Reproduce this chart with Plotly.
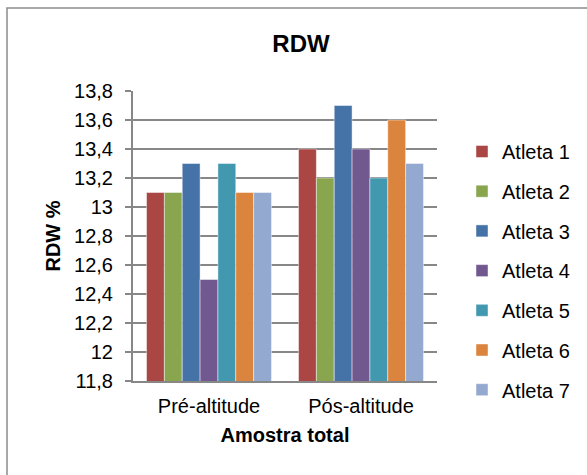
import plotly.graph_objects as go

# Data
categories = ["Pré-altitude", "Pós-altitude"]
athletes = ["Atleta 1", "Atleta 2", "Atleta 3", "Atleta 4", "Atleta 5", "Atleta 6", "Atleta 7"]
pre_altitude = [13.1, 13.1, 13.3, 12.5, 13.3, 13.1, 13.1]
pos_altitude = [13.4, 13.2, 13.7, 13.4, 13.2, 13.6, 13.3]
y_tick_values = [11.8, 12.0, 12.2, 12.4, 12.6, 12.8, 13.0, 13.2, 13.4, 13.6, 13.8]
y_tick_labels = ["11,8", "12", "12,2", "12,4", "12,6", "12,8", "13", "13,2", "13,4", "13,6", "13,8"]

colors = ["#AA4643", "#89A54E", "#4572A7", "#71588F", "#4198AF", "#DB843D", "#93A9CF"]
FONT = "Arial, 'Liberation Sans', sans-serif"

W, H = 587, 475
L, R, T, B = 133, 150, 91, 94
pw, ph = W - L - R, H - T - B


def px_x(px):
    return (px - L) / pw


def px_y(py):
    return (H - B - py) / ph


fig = go.Figure()
for i, name in enumerate(athletes):
    fig.add_trace(go.Bar(
        name=name,
        x=categories,
        y=[pre_altitude[i], pos_altitude[i]],
        marker=dict(color=colors[i], line=dict(color="rgba(255,255,255,0.45)", width=1)),
        legendgroup=name,
    ))

fig.update_layout(
    width=W, height=H,
    margin=dict(l=L, r=R, t=T, b=B),
    paper_bgcolor="white", plot_bgcolor="white",
    barmode="group", bargap=0.178, bargroupgap=0,
    font=dict(family=FONT, color="black", size=20),
    title=dict(text="<b>RDW</b>", x=301 / W, xanchor="center",
               y=1 - 44 / H, yanchor="middle", font=dict(size=24, family=FONT)),
    legend=dict(x=px_x(462), xanchor="left", y=px_y(271), yanchor="middle",
                font=dict(size=20, family=FONT), tracegroupgap=10.7,
                itemwidth=30, bgcolor="rgba(0,0,0,0)", maxheight=460),
    showlegend=True,
    shapes=[dict(type="rect", xref="paper", yref="paper",
                 x0=px_x(7), x1=px_x(600), y0=px_y(490), y1=px_y(8),
                 line=dict(color="#8c8c8c", width=1.5), layer="below")],
)

fig.update_xaxes(
    showline=True, linecolor="#878787", linewidth=2,
    ticks="", showgrid=False,
    tickfont=dict(size=20, family=FONT),
    ticklabelstandoff=6,
    title=dict(text="<b>Amostra total</b>", font=dict(size=20, family=FONT), standoff=12),
)
fig.update_yaxes(
    range=[11.8, 13.8],
    tickvals=y_tick_values, ticktext=y_tick_labels,
    showline=True, linecolor="#878787", linewidth=2,
    ticks="outside", ticklen=6, tickcolor="#878787", tickwidth=2,
    showgrid=True, gridcolor="#878787", gridwidth=2,
    tickfont=dict(size=20, family=FONT),
    ticklabelstandoff=8,
    zeroline=False,
    title=dict(text="<b>RDW %</b>", font=dict(size=20, family=FONT), standoff=8),
)

fig.write_html("out.html")
